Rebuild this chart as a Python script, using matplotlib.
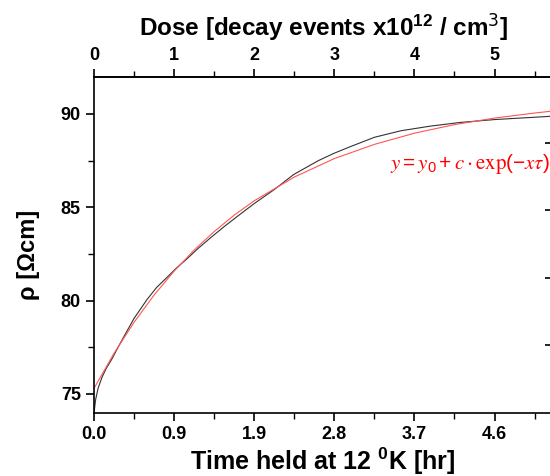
import matplotlib
matplotlib.use("Agg")
import matplotlib.pyplot as plt
from matplotlib.ticker import MultipleLocator

plt.rcParams['font.family'] = ['Liberation Sans', 'DejaVu Sans']
plt.rcParams['mathtext.default'] = 'regular'

# measured curve (dose in 1e12 decay events / cm^3, resistivity in Ohm cm)
dose = [0.0, 0.02, 0.05, 0.1, 0.15, 0.22, 0.3, 0.37, 0.5, 0.66, 0.78, 0.9,
        1.03, 1.15, 1.3, 1.45, 1.62, 1.8, 2.0, 2.25, 2.49, 2.8, 3.0, 3.2,
        3.5, 3.83, 4.2, 4.58, 5.0, 5.4, 5.72]
rho = [74.0, 74.7, 75.3, 75.9, 76.35, 76.85, 77.5, 78.05, 79.05, 80.05, 80.7, 81.2,
       81.75, 82.2, 82.8, 83.35, 83.95, 84.55, 85.2, 85.95, 86.75, 87.5, 87.9, 88.25,
       88.75, 89.1, 89.35, 89.55, 89.7, 89.8, 89.88]

# fitted curve
fit_dose = [0.0, 0.25, 0.5, 0.75, 1.0, 1.25, 1.5, 1.75, 2.0, 2.5, 3.0, 3.5,
            4.0, 4.5, 5.0, 5.5, 5.75]
fit_rho = [75.3, 77.18, 78.84, 80.30, 81.58, 82.71, 83.70, 84.58, 85.35, 86.62,
           87.61, 88.37, 88.97, 89.43, 89.78, 90.05, 90.17]

top_ticks = [0, 1, 2, 3, 4, 5]
time_labels = ['0.0', '0.9', '1.9', '2.8', '3.7', '4.6']
y_ticks = [75, 80, 85, 90]
right_ticks = [77.6, 81.2, 84.85, 88.45]

fig = plt.figure(figsize=(5.5, 4.76), dpi=100)
ax = fig.add_axes([0.171, 0.1324, 0.833, 0.7058])

ax.plot(dose, rho, color='#333333', lw=0.8)
ax.plot(fit_dose, fit_rho, color='#ff5555', lw=0.8)

ax.set_xlim(0, 5.72)
ax.set_ylim(73.98, 91.98)

ax.set_xticks(top_ticks)
ax.set_xticklabels(time_labels)
ax.xaxis.set_minor_locator(MultipleLocator(0.5))
ax.set_yticks(y_ticks)
ax.yaxis.set_minor_locator(MultipleLocator(2.5))

ax.tick_params(axis='both', which='major', direction='out', length=6, width=1.2,
               labelsize=13)
ax.tick_params(axis='both', which='minor', direction='out', length=4, width=1.0)
ax.tick_params(axis='y', right=False)
for lab in ax.get_xticklabels() + ax.get_yticklabels():
    lab.set_fontweight('bold')

for s in ax.spines.values():
    s.set_linewidth(1.2)

# top axis: dose
top = ax.secondary_xaxis('top')
top.set_xticks(top_ticks)
top.xaxis.set_minor_locator(MultipleLocator(0.5))
top.tick_params(which='major', direction='out', length=6, width=1.2, labelsize=13)
top.tick_params(which='minor', direction='out', length=4, width=1.0)
for lab in top.get_xticklabels():
    lab.set_fontweight('bold')
top.spines['top'].set_linewidth(1.2)
top.set_xlabel(r'Dose [decay events x10$^{12}$ / cm$^{\mathsf{3}}$]', fontsize=17.5,
               fontweight='bold', labelpad=8)

# right side ticks without labels
rax = ax.twinx()
rax.set_ylim(ax.get_ylim())
rax.set_yticks(right_ticks)
rax.set_yticklabels([])
rax.tick_params(axis='y', direction='in', length=5, width=1.2)
for s in rax.spines.values():
    s.set_visible(False)

ax.set_xlabel(r'Time held at 12 $^{0}$K [hr]', fontsize=18, fontweight='bold',
              labelpad=2)
ax.set_ylabel('ρ [Ωcm]', fontsize=17, fontweight='bold')
ax.yaxis.set_label_coords(-0.118, 0.47)

ax.text(5.69, 87.3,
        r'$\mathit{y} = \mathit{y}_0 + \mathit{c}\cdot\mathrm{exp}(-\mathit{x}\mathit{\tau})$',
        color='red', fontsize=15, math_fontfamily='stix', ha='right', va='center')

fig.savefig('out.png', dpi=100)
